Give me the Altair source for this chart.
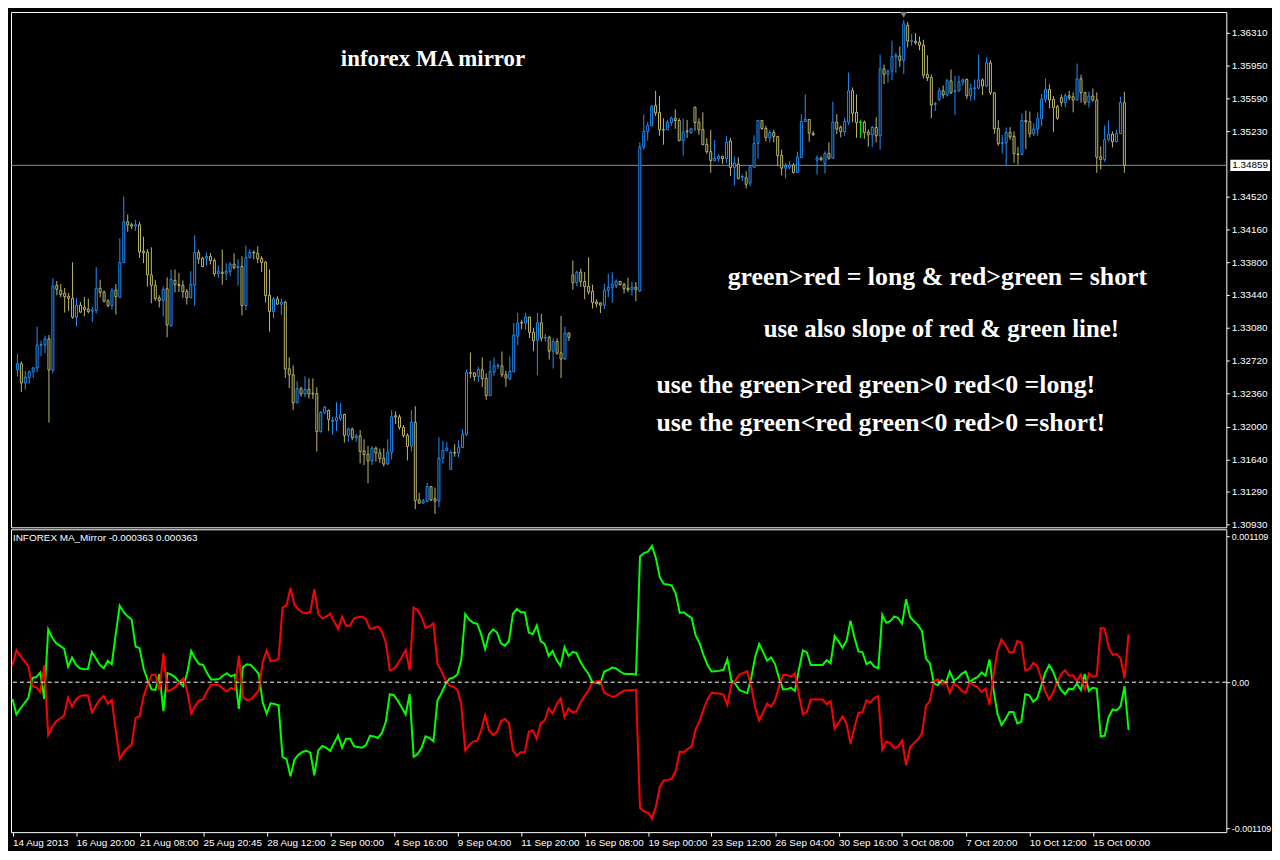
import json
import altair as alt
import pandas as pd

# ---------------- price data (H4 candles, EURUSD-like) ----------------
opens = [
    1.32622, 1.32687, 1.32477, 1.32535, 1.32600, 1.32643, 1.32890, 1.32893, 1.32959, 1.32618,
    1.33546, 1.33491, 1.33459, 1.33426, 1.33404, 1.33198, 1.33328, 1.33306, 1.33285, 1.33263,
    1.33270, 1.33513, 1.33473, 1.33375, 1.33325, 1.33495, 1.33415, 1.33796, 1.34241, 1.34209,
    1.34194, 1.34209, 1.33919, 1.33908, 1.33661, 1.33546, 1.33408, 1.33379, 1.33509, 1.33104,
    1.33600, 1.33556, 1.33546, 1.33480, 1.33411, 1.33546, 1.33904, 1.33843, 1.33843, 1.33861,
    1.33817, 1.33676, 1.33690, 1.33676, 1.33698, 1.33777, 1.33741, 1.33752, 1.33325, 1.33850,
    1.33908, 1.33897, 1.33839, 1.33799, 1.33437, 1.33259, 1.33397, 1.33339, 1.33361, 1.32632,
    1.32567, 1.32259, 1.32415, 1.32357, 1.32408, 1.32364, 1.32361, 1.31944, 1.32151, 1.32176,
    1.32056, 1.32064, 1.32085, 1.32132, 1.31904, 1.31973, 1.31879, 1.31897, 1.31734, 1.31698,
    1.31625, 1.31763, 1.31712, 1.31654, 1.31589, 1.31719, 1.32118, 1.32104, 1.31991, 1.31904,
    1.31788, 1.32046, 1.31198, 1.31162, 1.31183, 1.31343, 1.31209, 1.31187, 1.31654, 1.31738,
    1.31531, 1.31716, 1.31712, 1.31770, 1.31911, 1.32589, 1.32589, 1.32549, 1.32622, 1.32527,
    1.32339, 1.32596, 1.32661, 1.32665, 1.32567, 1.32520, 1.32600, 1.32988, 1.33140, 1.33132,
    1.33198, 1.33031, 1.32944, 1.33136, 1.32969, 1.32977, 1.32824, 1.32930, 1.32806, 1.32738,
    1.33024, 1.33658, 1.33574, 1.33690, 1.33589, 1.33535, 1.33480, 1.33364, 1.33353, 1.33328,
    1.33491, 1.33520, 1.33542, 1.33589, 1.33556, 1.33513, 1.33498, 1.33527, 1.33484, 1.35060,
    1.35230, 1.35292, 1.35513, 1.35437, 1.35252, 1.35248, 1.35328, 1.35371, 1.35350, 1.35129,
    1.35234, 1.35219, 1.35495, 1.35332, 1.35252, 1.35089, 1.35009, 1.34911, 1.34933, 1.34958,
    1.34933, 1.35125, 1.34835, 1.34872, 1.34730, 1.34723, 1.34665, 1.34839, 1.35100, 1.35350,
    1.35263, 1.35161, 1.35219, 1.35176, 1.34969, 1.34828, 1.34839, 1.34864, 1.34781, 1.34944,
    1.35339, 1.35361, 1.35208, 1.34915, 1.34940, 1.34879, 1.34991, 1.34937, 1.35332, 1.35277,
    1.35227, 1.35332, 1.35676, 1.35440, 1.35332, 1.35332, 1.35223, 1.35194, 1.35274, 1.35183,
    1.35915, 1.35857, 1.35890, 1.36045, 1.36056, 1.36009, 1.36393, 1.36216, 1.36219, 1.36208,
    1.36176, 1.35853, 1.35821, 1.35527, 1.35582, 1.35676, 1.35629, 1.35785, 1.35669, 1.35672,
    1.35770, 1.35799, 1.35621, 1.35698, 1.35705, 1.35795, 1.35727, 1.35980, 1.35654, 1.35263,
    1.35100, 1.35103, 1.35219, 1.35176, 1.34984, 1.34980, 1.35350, 1.35339, 1.35205, 1.35256,
    1.35371, 1.35582, 1.35690, 1.35582, 1.35502, 1.35600, 1.35545, 1.35621, 1.35611, 1.35574,
    1.35806, 1.35654, 1.35549, 1.35618, 1.35574, 1.34951, 1.34922, 1.35140, 1.35201, 1.35118,
    1.35208, 1.35545,
]
highs = [
    1.32796, 1.32712, 1.32611, 1.32614, 1.32651, 1.33093, 1.32940, 1.32995, 1.33002, 1.33625,
    1.33593, 1.33560, 1.33517, 1.33462, 1.33799, 1.33408, 1.33364, 1.33419, 1.33401, 1.33310,
    1.33745, 1.33607, 1.33488, 1.33393, 1.33517, 1.33560, 1.34060, 1.34516, 1.34321, 1.34230,
    1.34263, 1.34241, 1.34078, 1.33944, 1.33962, 1.33603, 1.33437, 1.33535, 1.33632, 1.33719,
    1.33719, 1.33680, 1.33600, 1.33506, 1.33701, 1.34093, 1.33933, 1.33857, 1.33904, 1.33901,
    1.33843, 1.33763, 1.33937, 1.33788, 1.33799, 1.33897, 1.33832, 1.33864, 1.33980, 1.33940,
    1.33926, 1.33973, 1.33864, 1.33810, 1.33719, 1.33419, 1.33426, 1.33401, 1.33375, 1.32756,
    1.32669, 1.32495, 1.32437, 1.32549, 1.32527, 1.32527, 1.32430, 1.32169, 1.32227, 1.32187,
    1.32107, 1.32267, 1.32256, 1.32140, 1.31988, 1.31988, 1.31922, 1.31962, 1.31861, 1.31788,
    1.31785, 1.31781, 1.31759, 1.31763, 1.31861, 1.32180, 1.32165, 1.32132, 1.32017, 1.31926,
    1.32180, 1.32223, 1.31274, 1.31209, 1.31383, 1.31350, 1.31332, 1.31883, 1.31843, 1.31832,
    1.31741, 1.31806, 1.31850, 1.31969, 1.32622, 1.32810, 1.32593, 1.32654, 1.32756, 1.32582,
    1.32719, 1.32756, 1.32690, 1.32821, 1.32611, 1.32767, 1.33136, 1.33245, 1.33169, 1.33245,
    1.33205, 1.33082, 1.33245, 1.33234, 1.33013, 1.32995, 1.32966, 1.32966, 1.33212, 1.33093,
    1.33027, 1.33817, 1.33705, 1.33727, 1.33690, 1.33853, 1.33553, 1.33393, 1.33361, 1.33564,
    1.33672, 1.33690, 1.33611, 1.33593, 1.33574, 1.33629, 1.33585, 1.33582, 1.35111, 1.35415,
    1.35332, 1.35520, 1.35676, 1.35621, 1.35375, 1.35357, 1.35393, 1.35473, 1.35375, 1.35371,
    1.35357, 1.35270, 1.35502, 1.35375, 1.35440, 1.35158, 1.35248, 1.35136, 1.34980, 1.34962,
    1.35176, 1.35161, 1.34958, 1.34948, 1.34759, 1.34795, 1.34861, 1.35187, 1.35357, 1.35357,
    1.35292, 1.35245, 1.35248, 1.35179, 1.35031, 1.34886, 1.34904, 1.34882, 1.35009, 1.35419,
    1.35636, 1.35368, 1.35234, 1.34969, 1.34958, 1.35013, 1.35111, 1.35556, 1.35419, 1.35295,
    1.35382, 1.35875, 1.35712, 1.35636, 1.35357, 1.35350, 1.35252, 1.35292, 1.35386, 1.36071,
    1.35962, 1.35908, 1.36223, 1.36092, 1.36161, 1.36451, 1.36429, 1.36299, 1.36306, 1.36270,
    1.36234, 1.36063, 1.35853, 1.35553, 1.35712, 1.35734, 1.35806, 1.35908, 1.35839, 1.35842,
    1.35810, 1.35810, 1.35756, 1.35799, 1.36071, 1.35810, 1.36038, 1.36009, 1.35661, 1.35353,
    1.35190, 1.35274, 1.35277, 1.35230, 1.35060, 1.35429, 1.35458, 1.35448, 1.35321, 1.35440,
    1.35640, 1.35810, 1.35745, 1.35618, 1.35520, 1.35636, 1.35647, 1.35676, 1.35658, 1.35973,
    1.35850, 1.35665, 1.35665, 1.35701, 1.35658, 1.35067, 1.35295, 1.35350, 1.35230, 1.35248,
    1.35611, 1.35665,
]
lows = [
    1.32549, 1.32379, 1.32404, 1.32469, 1.32531, 1.32596, 1.32770, 1.32803, 1.32042, 1.32582,
    1.33437, 1.33415, 1.33248, 1.33263, 1.33180, 1.33096, 1.33245, 1.33205, 1.33238, 1.33143,
    1.33238, 1.33415, 1.33357, 1.33303, 1.33281, 1.33227, 1.33411, 1.33788, 1.34132, 1.34161,
    1.34140, 1.33846, 1.33788, 1.33531, 1.33350, 1.33375, 1.33303, 1.33205, 1.32977, 1.33089,
    1.33469, 1.33473, 1.33408, 1.33335, 1.33401, 1.33321, 1.33781, 1.33745, 1.33763, 1.33774,
    1.33643, 1.33625, 1.33553, 1.33603, 1.33647, 1.33719, 1.33542, 1.33216, 1.33270, 1.33839,
    1.33832, 1.33788, 1.33690, 1.33357, 1.33038, 1.33183, 1.33335, 1.33223, 1.32531, 1.32422,
    1.32183, 1.32256, 1.32328, 1.32325, 1.32306, 1.32303, 1.31727, 1.31933, 1.32140, 1.31951,
    1.31908, 1.31951, 1.32060, 1.31825, 1.31835, 1.31850, 1.31832, 1.31596, 1.31578, 1.31379,
    1.31578, 1.31618, 1.31604, 1.31564, 1.31585, 1.31640, 1.32027, 1.31966, 1.31879, 1.31629,
    1.31727, 1.31096, 1.31154, 1.31158, 1.31172, 1.31183, 1.31042, 1.31118, 1.31596, 1.31727,
    1.31527, 1.31669, 1.31661, 1.31767, 1.31897, 1.32531, 1.32498, 1.32488, 1.32433, 1.32292,
    1.32335, 1.32556, 1.32629, 1.32542, 1.32433, 1.32509, 1.32596, 1.32890, 1.33064, 1.33060,
    1.32969, 1.32824, 1.32564, 1.32930, 1.32930, 1.32734, 1.32636, 1.32785, 1.32531, 1.32734,
    1.32937, 1.33498, 1.33538, 1.33531, 1.33393, 1.33444, 1.33292, 1.33306, 1.33241, 1.33285,
    1.33419, 1.33357, 1.33516, 1.33545, 1.33455, 1.33473, 1.33437, 1.33372, 1.33473, 1.35031,
    1.35129, 1.35288, 1.35400, 1.35183, 1.35085, 1.35245, 1.35292, 1.35259, 1.35125, 1.34966,
    1.35158, 1.35205, 1.35237, 1.35194, 1.35082, 1.34984, 1.34777, 1.34904, 1.34897, 1.34875,
    1.34886, 1.34741, 1.34640, 1.34705, 1.34687, 1.34607, 1.34632, 1.34835, 1.34933, 1.35248,
    1.35122, 1.35111, 1.35111, 1.34850, 1.34748, 1.34716, 1.34814, 1.34770, 1.34777, 1.34940,
    1.35335, 1.35118, 1.35183, 1.34759, 1.34904, 1.34770, 1.34922, 1.34933, 1.35201, 1.35165,
    1.35183, 1.35303, 1.35332, 1.35161, 1.35158, 1.35150, 1.35064, 1.35060, 1.35111, 1.35031,
    1.35748, 1.35763, 1.35792, 1.35875, 1.35937, 1.35857, 1.36150, 1.36169, 1.36179, 1.36118,
    1.35810, 1.35781, 1.35375, 1.35455, 1.35564, 1.35592, 1.35611, 1.35640, 1.35411, 1.35669,
    1.35734, 1.35585, 1.35564, 1.35574, 1.35690, 1.35629, 1.35712, 1.35629, 1.35205, 1.35074,
    1.34987, 1.34850, 1.35140, 1.34886, 1.34868, 1.34966, 1.35038, 1.35165, 1.35183, 1.35183,
    1.35285, 1.35545, 1.35484, 1.35223, 1.35357, 1.35502, 1.35495, 1.35574, 1.35440, 1.35571,
    1.35545, 1.35520, 1.35491, 1.35556, 1.34777, 1.34814, 1.34897, 1.35122, 1.35056, 1.35111,
    1.35201, 1.34777,
]
closes = [
    1.32687, 1.32477, 1.32542, 1.32600, 1.32643, 1.32893, 1.32897, 1.32959, 1.32618, 1.33535,
    1.33502, 1.33444, 1.33422, 1.33404, 1.33198, 1.33328, 1.33252, 1.33281, 1.33259, 1.33277,
    1.33513, 1.33469, 1.33372, 1.33325, 1.33491, 1.33422, 1.33796, 1.34241, 1.34205, 1.34194,
    1.34209, 1.33911, 1.33901, 1.33661, 1.33546, 1.33401, 1.33379, 1.33502, 1.33111, 1.33611,
    1.33556, 1.33542, 1.33477, 1.33411, 1.33556, 1.33904, 1.33835, 1.33752, 1.33861, 1.33817,
    1.33672, 1.33698, 1.33676, 1.33701, 1.33777, 1.33741, 1.33752, 1.33325, 1.33850, 1.33904,
    1.33901, 1.33835, 1.33796, 1.33433, 1.33259, 1.33397, 1.33339, 1.33361, 1.32629, 1.32567,
    1.32259, 1.32415, 1.32357, 1.32404, 1.32357, 1.32357, 1.31944, 1.32154, 1.32212, 1.32078,
    1.32071, 1.32100, 1.32132, 1.31904, 1.31973, 1.31879, 1.31897, 1.31727, 1.31694, 1.31625,
    1.31763, 1.31709, 1.31651, 1.31589, 1.31719, 1.32107, 1.32104, 1.31991, 1.31901, 1.31781,
    1.32046, 1.31191, 1.31162, 1.31187, 1.31343, 1.31198, 1.31183, 1.31654, 1.31741, 1.31763,
    1.31719, 1.31709, 1.31770, 1.31915, 1.32593, 1.32582, 1.32546, 1.32625, 1.32524, 1.32339,
    1.32603, 1.32665, 1.32669, 1.32567, 1.32531, 1.32603, 1.33002, 1.33132, 1.33132, 1.33198,
    1.33031, 1.32940, 1.33136, 1.32966, 1.32977, 1.32824, 1.32930, 1.32803, 1.32738, 1.33024,
    1.32977, 1.33574, 1.33690, 1.33589, 1.33531, 1.33473, 1.33357, 1.33343, 1.33328, 1.33491,
    1.33524, 1.33556, 1.33589, 1.33553, 1.33509, 1.33498, 1.33524, 1.33502, 1.35060, 1.35230,
    1.35295, 1.35502, 1.35433, 1.35248, 1.35245, 1.35332, 1.35375, 1.35350, 1.35129, 1.35223,
    1.35227, 1.35259, 1.35328, 1.35248, 1.35085, 1.35009, 1.34911, 1.34937, 1.34958, 1.34933,
    1.35111, 1.34835, 1.34886, 1.34716, 1.34737, 1.34651, 1.34843, 1.35100, 1.35350, 1.35263,
    1.35165, 1.35219, 1.35176, 1.34966, 1.34828, 1.34850, 1.34861, 1.34781, 1.34951, 1.35339,
    1.35361, 1.35212, 1.35194, 1.34940, 1.34922, 1.34991, 1.34937, 1.35332, 1.35256, 1.35227,
    1.35339, 1.35676, 1.35429, 1.35328, 1.35332, 1.35219, 1.35194, 1.35274, 1.35183, 1.35915,
    1.35857, 1.35890, 1.36049, 1.36060, 1.36009, 1.36408, 1.36219, 1.36223, 1.36201, 1.36176,
    1.35846, 1.35817, 1.35520, 1.35535, 1.35676, 1.35629, 1.35785, 1.35654, 1.35676, 1.35774,
    1.35795, 1.35621, 1.35698, 1.35708, 1.35795, 1.35727, 1.35980, 1.35654, 1.35259, 1.35096,
    1.35107, 1.35219, 1.35169, 1.34987, 1.34977, 1.35350, 1.35335, 1.35205, 1.35256, 1.35371,
    1.35585, 1.35690, 1.35574, 1.35491, 1.35375, 1.35545, 1.35621, 1.35600, 1.35574, 1.35806,
    1.35654, 1.35549, 1.35618, 1.35574, 1.34948, 1.34922, 1.35140, 1.35201, 1.35118, 1.35208,
    1.35545, 1.34859,
]

# ---------------- INFOREX MA_Mirror (green buffer; red is its mirror) ----------------
green = [
    -0.000128, -0.000244, -0.000200, -0.000160, -0.000121, 0.000032, 0.000039, 0.000074, -0.000128, 0.000402,
    0.000340, 0.000296, 0.000276, 0.000254, 0.000118, 0.000187, 0.000131, 0.000106, 0.000099, 0.000101,
    0.000229, 0.000180, 0.000131, 0.000106, 0.000163, 0.000136, 0.000365, 0.000582, 0.000532, 0.000500,
    0.000476, 0.000271, 0.000259, 0.000106, 0.000020, -0.000054, -0.000059, 0.000062, -0.000219, 0.000069,
    0.000057, 0.000037, 0.000000, -0.000030, 0.000069, 0.000237, 0.000180, 0.000138, 0.000131, 0.000069,
    0.000020, 0.000020, 0.000025, 0.000049, 0.000069, 0.000044, 0.000057, -0.000202, 0.000113, 0.000136,
    0.000131, 0.000099, 0.000064, -0.000153, -0.000239, -0.000160, -0.000165, -0.000177, -0.000567, -0.000584,
    -0.000715, -0.000589, -0.000552, -0.000530, -0.000522, -0.000535, -0.000707, -0.000518, -0.000485, -0.000498,
    -0.000522, -0.000461, -0.000404, -0.000498, -0.000429, -0.000429, -0.000485, -0.000493, -0.000498, -0.000478,
    -0.000407, -0.000412, -0.000424, -0.000387, -0.000301, -0.000091, -0.000099, -0.000140, -0.000190, -0.000244,
    -0.000091, -0.000567, -0.000547, -0.000498, -0.000412, -0.000424, -0.000449, -0.000140, -0.000084, -0.000017,
    0.000025, 0.000035, 0.000057, 0.000168, 0.000518, 0.000476, 0.000451, 0.000444, 0.000365, 0.000251,
    0.000365, 0.000402, 0.000377, 0.000296, 0.000278, 0.000311, 0.000518, 0.000557, 0.000532, 0.000532,
    0.000377, 0.000365, 0.000431, 0.000311, 0.000291, 0.000200, 0.000237, 0.000168, 0.000123, 0.000266,
    0.000200, 0.000229, 0.000222, 0.000155, 0.000106, 0.000064, 0.000002, -0.000005, -0.000012, 0.000081,
    0.000094, 0.000111, 0.000104, 0.000081, 0.000064, 0.000062, 0.000062, 0.000057, 0.000956, 0.000981,
    0.000991, 0.001035, 0.000944, 0.000796, 0.000747, 0.000742, 0.000734, 0.000673, 0.000527, 0.000532,
    0.000508, 0.000488, 0.000357, 0.000296, 0.000205, 0.000131, 0.000081, 0.000084, 0.000086, 0.000094,
    0.000173, 0.000015, -0.000012, -0.000059, -0.000071, -0.000084, 0.000032, 0.000192, 0.000291, 0.000229,
    0.000163, 0.000187, 0.000138, 0.000032, -0.000054, -0.000054, -0.000042, -0.000067, 0.000094, 0.000242,
    0.000227, 0.000131, 0.000131, 0.000131, 0.000131, 0.000168, 0.000143, 0.000352, 0.000308, 0.000261,
    0.000315, 0.000468, 0.000340, 0.000234, 0.000229, 0.000138, 0.000155, 0.000118, 0.000106, 0.000513,
    0.000451, 0.000463, 0.000500, 0.000488, 0.000444, 0.000631, 0.000495, 0.000463, 0.000434, 0.000389,
    0.000180, 0.000143, -0.000010, -0.000022, 0.000015, -0.000005, 0.000081, 0.000012, 0.000032, 0.000064,
    0.000081, 0.000000, 0.000025, 0.000039, 0.000074, 0.000049, 0.000173, -0.000054, -0.000239, -0.000325,
    -0.000281, -0.000227, -0.000227, -0.000313, -0.000301, -0.000091, -0.000099, -0.000148, -0.000123, -0.000030,
    0.000069, 0.000131, 0.000081, 0.000000, -0.000059, -0.000091, -0.000049, -0.000054, -0.000010, -0.000059,
    0.000062, -0.000067, -0.000042, -0.000049, -0.000412, -0.000407, -0.000264, -0.000207, -0.000214, -0.000182,
    -0.000030, -0.000363,
]

# ---------------- axis ticks / labels ----------------
tick_bars = [0, 16, 32, 48, 64, 80, 96, 112, 128, 144, 160, 176, 192, 208, 224, 240, 256, 272]
time_labels = ["14 Aug 2013", "16 Aug 20:00", "21 Aug 08:00", "25 Aug 20:45", "28 Aug 12:00",
               "2 Sep 00:00", "4 Sep 16:00", "9 Sep 04:00", "11 Sep 20:00", "16 Sep 08:00",
               "19 Sep 00:00", "23 Sep 12:00", "26 Sep 04:00", "30 Sep 16:00", "3 Oct 08:00",
               "7 Oct 20:00", "10 Oct 12:00", "15 Oct 00:00"]
price_ticks = [1.36310, 1.35950, 1.35590, 1.35230, 1.34520, 1.34160, 1.33800, 1.33440,
               1.33080, 1.32720, 1.32360, 1.32000, 1.31640, 1.31290, 1.30930]
ind_ticks = [0.001109, 0.0, -0.001109]
ind_tick_labels = ["0.001109", "0.00", "-0.001109"]

annotations_title = "inforex MA mirror"
annotation_lines = ["green>red = long & red>green = short",
                    "use also slope of red & green line!",
                    "use the green>red green>0 red<0 =long!",
                    "use the green<red green<0 red>0 =short!"]

n = len(closes)
assert len(opens) == n and len(highs) == n and len(lows) == n and len(green) == n

df = pd.DataFrame({"bar": list(range(n)), "open": opens, "high": highs,
                   "low": lows, "close": closes})
df["dir"] = ["up" if c > o else ("down" if c < o else "flat") for o, c in zip(opens, closes)]
df["body_lo"] = df[["open", "close"]].min(axis=1)
df["body_hi"] = df[["open", "close"]].max(axis=1)

ind = pd.DataFrame({"bar": list(range(n)), "green": green})
ind["red"] = -ind["green"]

last_price = closes[-1]
cur = pd.DataFrame({"price": [last_price], "label": [f"{last_price:.5f}"]})
one = pd.DataFrame({"k": [0]})

W = 1224
H_TOP = 519
H_BOT = 305

FONT = "Liberation Sans"
xs = alt.Scale(domain=[-0.375, 305.625], nice=False, zero=False)
ys = alt.Scale(domain=[1.30897, 1.36538], nice=False, zero=False)
ys2 = alt.Scale(domain=[-0.0011392, 0.0011618], nice=False, zero=False)
cscale = alt.Scale(domain=["up", "down", "flat"], range=["#1E90FF", "#BDB76B", "#00FF00"])

y_axis = alt.Axis(orient="right", values=price_ticks, format=".5f", title=None,
                  labelColor="white", tickColor="white", tickSize=3, labelPadding=2,
                  labelFont=FONT, labelFontSize=10, domain=False, grid=False,
                  labelOverlap=False)

x_label_expr = f"{json.dumps(time_labels)}[indexof({json.dumps(tick_bars)}, datum.value)]"
x_axis = alt.Axis(values=tick_bars, labelExpr=x_label_expr, title=None,
                  labelColor="white", tickColor="white", tickSize=4, labelPadding=1,
                  labelAlign="left", labelBaseline="top", labelFont=FONT, labelFontSize=10,
                  domain=False, grid=False, labelOverlap=False)

ind_label_expr = f"{json.dumps(ind_tick_labels)}[indexof({json.dumps(ind_ticks)}, datum.value)]"
y2_axis = alt.Axis(orient="right", values=ind_ticks, labelExpr=ind_label_expr, title=None,
                   labelColor="white", tickColor="white", tickSize=3, labelPadding=2,
                   labelFont=FONT, labelFontSize=9, domain=False, grid=False,
                   labelOverlap=False)

# ---------------- top panel: candles ----------------
base = alt.Chart(df)
wicks = base.mark_rule(strokeWidth=1).encode(
    x=alt.X("bar:Q", scale=xs, axis=None),
    y=alt.Y("low:Q", scale=ys, axis=y_axis),
    y2="high:Q",
    color=alt.Color("dir:N", scale=cscale, legend=None),
)
bodies = base.mark_bar(size=2, fill="black", strokeWidth=1).encode(
    x=alt.X("bar:Q", scale=xs, axis=None),
    y=alt.Y("body_lo:Q", scale=ys, axis=y_axis),
    y2="body_hi:Q",
    stroke=alt.Stroke("dir:N", scale=cscale, legend=None),
)
price_line = alt.Chart(cur).mark_rule(color="#8C8C8C", strokeWidth=1).encode(
    y=alt.Y("price:Q", scale=ys, axis=y_axis)
)
price_box = alt.Chart(cur).mark_point(
    shape="M-1,-0.28H1V0.28H-1Z", size=1600, filled=True, color="white", opacity=1
).encode(x=alt.value(W + 24), y=alt.Y("price:Q", scale=ys, axis=y_axis))
price_text = alt.Chart(cur).mark_text(
    color="black", font=FONT, fontSize=10, align="center", baseline="middle"
).encode(x=alt.value(W + 24), y=alt.Y("price:Q", scale=ys, axis=y_axis), text="label:N")

shift_marker = alt.Chart(one).mark_point(
    shape="triangle-down", filled=True, color="#808080", size=45, opacity=1
).encode(x=alt.value(899), y=alt.value(3))

SERIF = "Liberation Serif"
t_title = alt.Chart(one).mark_text(
    text=annotations_title, font=SERIF, fontWeight="bold", fontSize=23, color="white",
    align="center", baseline="alphabetic"
).encode(x=alt.value(425), y=alt.value(54))
t1 = alt.Chart(one).mark_text(
    text=annotation_lines[0], font=SERIF, fontWeight="bold", fontSize=26, color="white",
    align="center", baseline="alphabetic"
).encode(x=alt.value(933), y=alt.value(275))
t2 = alt.Chart(one).mark_text(
    text=annotation_lines[1], font=SERIF, fontWeight="bold", fontSize=25, color="white",
    align="center", baseline="alphabetic"
).encode(x=alt.value(937), y=alt.value(327))
t3 = alt.Chart(one).mark_text(
    text=annotation_lines[2], font=SERIF, fontWeight="bold", fontSize=26, color="white",
    align="left", baseline="alphabetic"
).encode(x=alt.value(650), y=alt.value(384))
t4 = alt.Chart(one).mark_text(
    text=annotation_lines[3], font=SERIF, fontWeight="bold", fontSize=26, color="white",
    align="left", baseline="alphabetic"
).encode(x=alt.value(650), y=alt.value(422))

top = alt.layer(price_line, wicks, bodies, price_box, price_text, shift_marker,
                t_title, t1, t2, t3, t4).properties(width=W, height=H_TOP)

# ---------------- bottom panel: indicator ----------------
green_line = alt.Chart(ind).mark_line(color="#00FF00", strokeWidth=2).encode(
    x=alt.X("bar:Q", scale=xs, axis=x_axis),
    y=alt.Y("green:Q", scale=ys2, axis=y2_axis),
)
red_line = alt.Chart(ind).mark_line(color="#FF0000", strokeWidth=2).encode(
    x=alt.X("bar:Q", scale=xs, axis=x_axis),
    y=alt.Y("red:Q", scale=ys2, axis=y2_axis),
)
zero_line = alt.Chart(one).mark_rule(color="white", strokeDash=[4, 3], strokeWidth=1).encode(
    y=alt.datum(0.0, scale=ys2, axis=y2_axis)
)
ind_name = f"INFOREX MA_Mirror {green[-1]:.6f} {-green[-1]:.6f}"
ind_label = alt.Chart(one).mark_text(
    text=ind_name, font=FONT, fontSize=10, color="white", align="left", baseline="middle"
).encode(x=alt.value(2), y=alt.value(9))

bottom = alt.layer(green_line, red_line, zero_line, ind_label).properties(width=W, height=H_BOT)

chart = alt.vconcat(top, bottom, spacing=2, bounds="flush").properties(
    padding=0, background="black"
).configure_view(stroke="white", strokeWidth=1, fill="black")

chart.save("out.html", embed_options={"renderer": "svg", "actions": False})
